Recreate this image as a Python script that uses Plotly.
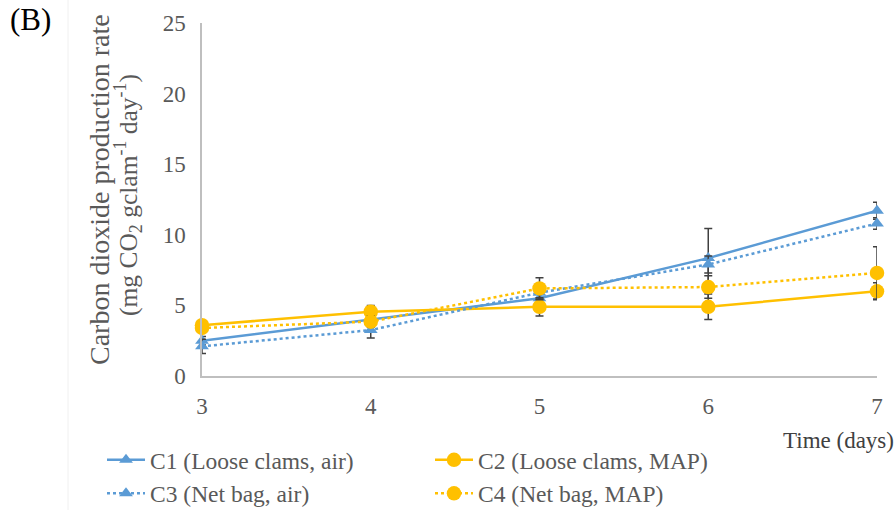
import plotly.graph_objects as go

# Storage time (days)
days = [3, 4, 5, 6, 7]

# CO2 production rate (mg CO2 gclam^-1 day^-1) and standard deviations
c1 = [2.5, 4.0, 5.5, 8.35, 11.7]
c1_err = [0.3, 0.3, 0.5, 2.1, 0.6]
c2 = [3.6, 4.55, 4.9, 4.9, 6.0]
c2_err = [0.3, 0.45, 0.65, 0.9, 0.6]
c3 = [2.1, 3.25, 5.9, 7.9, 10.8]
c3_err = [0.5, 0.55, 0.5, 0.6, 0.4]
c4 = [3.4, 3.85, 6.2, 6.3, 7.3]
c4_err = [0.3, 0.4, 0.75, 0.8, 1.85]

names = ["C1 (Loose clams, air)", "C2 (Loose clams, MAP)",
         "C3 (Net bag, air)", "C4 (Net bag, MAP)"]

y_ticks = [0, 5, 10, 15, 20, 25]

BLUE = "#5B9BD5"
GOLD = "#FFC000"
GREY_TXT = "#595959"
ERR = "#404040"
FONT = "Liberation Serif"

W, H = 896, 510
L, R, T, B = 202, 19, 23, 134
PW, PH = W - L - R, H - T - B


def px(x):
    return (x - L) / PW


def py(y):
    return (H - B - y) / PH


def err(arr):
    return dict(type="data", array=arr, visible=True, color=ERR,
                thickness=1.5, width=4)


fig = go.Figure()
series = [
    (c1, c1_err, names[0], BLUE, "solid", "triangle-up", 12),
    (c2, c2_err, names[1], GOLD, "solid", "circle", 14.5),
    (c3, c3_err, names[2], BLUE, "3px,3px", "triangle-up", 12),
    (c4, c4_err, names[3], GOLD, "3px,3px", "circle", 14.5),
]
for vals, e, name, col, dash, sym, size in series:
    fig.add_trace(go.Scatter(
        x=days, y=vals, name=name, mode="lines+markers",
        line=dict(color=col, width=2.5, dash=dash),
        marker=dict(color=col, symbol=sym, size=size, line=dict(width=0)),
        error_y=err(e), cliponaxis=False,
    ))

fig.update_layout(
    width=W, height=H,
    margin=dict(l=L, r=R, t=T, b=B, pad=0, autoexpand=False),
    paper_bgcolor="white", plot_bgcolor="white",
    font=dict(family=FONT, size=23, color=GREY_TXT),
    showlegend=True,
    legend=dict(
        orientation="h", x=px(102), y=py(438), xanchor="left", yanchor="top",
        entrywidth=275, entrywidthmode="pixels", itemwidth=38,
        font=dict(family=FONT, size=23.5, color=GREY_TXT),
        bgcolor="rgba(0,0,0,0)", itemclick=False,
    ),
    xaxis=dict(
        range=[3, 7], tickvals=days, showgrid=False, zeroline=False,
        showline=True, linecolor="#BFBFBF", linewidth=1.5,
        ticks="", ticklabelstandoff=9,
        tickfont=dict(family=FONT, size=23, color=GREY_TXT),
    ),
    yaxis=dict(
        range=[0, 25], tickvals=y_ticks, showgrid=False, zeroline=False,
        showline=True, linecolor="#BFBFBF", linewidth=1.5,
        ticks="", ticklabelstandoff=10,
        tickfont=dict(family=FONT, size=23, color=GREY_TXT),
    ),
)

annotations = [
    dict(text="(B)", x=px(8), y=py(19), xanchor="left", yanchor="middle",
         font=dict(family=FONT, size=31, color="black")),
    dict(text="Carbon dioxide production rate", x=px(99), y=py(190),
         textangle=-90, xanchor="center", yanchor="middle",
         font=dict(family=FONT, size=28, color=GREY_TXT)),
    dict(text="(mg CO<sub>2</sub> gclam<sup>-1</sup> day<sup>-1</sup>)",
         x=px(128), y=py(195), textangle=-90, xanchor="center",
         yanchor="middle", font=dict(family=FONT, size=25.5, color=GREY_TXT)),
    dict(text="Time (days)", x=px(896), y=py(440), xanchor="right",
         yanchor="middle", font=dict(family=FONT, size=23, color="#404040")),
]
for a in annotations:
    a.update(xref="paper", yref="paper", showarrow=False)
fig.update_layout(annotations=annotations)

# faint chart-area border on the left
fig.add_shape(type="line", xref="paper", yref="paper", x0=px(68), x1=px(68),
              y0=py(0), y1=py(H), line=dict(color="#F0F0F0", width=1))

fig.write_html("out.html")
